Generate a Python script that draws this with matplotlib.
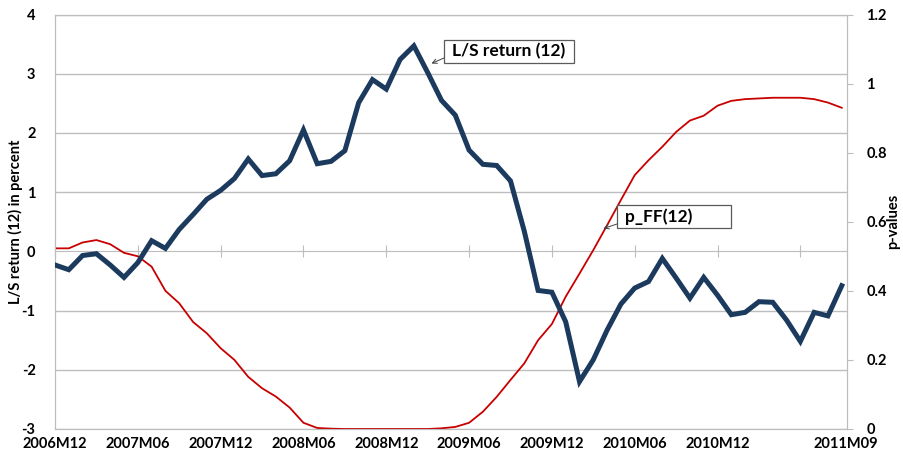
import matplotlib
matplotlib.use("Agg")
import matplotlib.pyplot as plt
from matplotlib.patches import Rectangle
import numpy as np

plt.rcParams['font.family'] = ['Lato', 'DejaVu Sans']
plt.rcParams['font.weight'] = 'bold'

# Monthly observations 2006M12 .. 2011M09
months = [f"{y}M{m:02d}" for y in range(2006, 2012) for m in range(1, 13)]
months = months[months.index("2006M12"):months.index("2011M09") + 1]

ls_return = [-0.23, -0.31, -0.07, -0.04, -0.23, -0.44, -0.19, 0.18, 0.05, 0.37,
             0.62, 0.88, 1.03, 1.23, 1.56, 1.28, 1.31, 1.53, 2.05, 1.48,
             1.52, 1.70, 2.51, 2.90, 2.74, 3.24, 3.47, 3.02, 2.55, 2.30,
             1.71, 1.47, 1.45, 1.19, 0.34, -0.66, -0.69, -1.19, -2.20, -1.83,
             -1.33, -0.89, -0.62, -0.51, -0.12, -0.45, -0.79, -0.44, -0.74, -1.07,
             -1.03, -0.85, -0.86, -1.16, -1.52, -1.03, -1.09, -0.58]

p_ff = [0.523, 0.523, 0.540, 0.547, 0.535, 0.510, 0.500, 0.470, 0.400, 0.364,
        0.310, 0.277, 0.234, 0.200, 0.151, 0.118, 0.094, 0.062, 0.018, 0.003,
        0.001, 0.000, 0.000, 0.000, 0.000, 0.000, 0.000, 0.000, 0.002, 0.006,
        0.018, 0.050, 0.093, 0.142, 0.190, 0.257, 0.304, 0.383, 0.450, 0.518,
        0.590, 0.663, 0.735, 0.778, 0.817, 0.860, 0.893, 0.907, 0.936, 0.950,
        0.955, 0.957, 0.959, 0.959, 0.959, 0.955, 0.945, 0.930]

left_ticks = [4, 3, 2, 1, 0, -1, -2, -3]
right_ticks = [0, 0.2, 0.4, 0.6, 0.8, 1.0, 1.2]
label_months = ["2006M12", "2007M06", "2007M12", "2008M06", "2008M12",
                "2009M06", "2009M12", "2010M06", "2010M12"]
tick_months = label_months + ["2011M06"]
last_label = "2011M09"

navy = "#1B3A5E"
red = "#C80000"
grid = "#BDBDBD"

W, H = 904, 455
fig = plt.figure(figsize=(W / 100, H / 100), dpi=100)
ax = fig.add_axes([55 / W, 1 - 429 / H, (847 - 55) / W, (429 - 14.5) / H])
x = np.arange(len(months))

ax.set_xlim(0, len(months) - 1 + 0.38)
ax.set_ylim(-3, 4)
ax.set_yticks(left_ticks)
ax.set_yticklabels([f"{t:g}" for t in left_ticks])
for t in left_ticks:
    if t != 0:
        ax.axhline(t, color=grid, lw=1.0, zorder=0)
for s in ['left', 'right', 'top', 'bottom']:
    ax.spines[s].set_color(grid)
ax.tick_params(axis='y', length=0, pad=14, labelsize=10.5)

# x labels at the bottom
lab_idx = [months.index(m) for m in label_months] + [len(months) - 1 + 0.3]
ax.set_xticks(lab_idx)
ax.set_xticklabels(label_months + [last_label], fontsize=10.5)
ax.tick_params(axis='x', length=0, pad=6)

# category axis through zero with tick marks
sec = ax.secondary_xaxis(3 / 7)
sec.set_xticks([months.index(m) for m in tick_months])
sec.tick_params(axis='x', direction='inout', length=8, color=grid,
                labelbottom=False, labeltop=False)
sec.spines['bottom'].set_color(grid)
sec.spines['top'].set_color(grid)

ax.set_ylabel("L/S return (12) in percent", fontsize=10.5, fontweight='bold')
ax.yaxis.set_label_coords((23 - 55) / 792, 0.5)

ax2 = ax.twinx()
ax2.set_ylim(0, 1.2)
ax2.set_yticks(right_ticks)
ax2.set_yticklabels([f"{t:g}" for t in right_ticks])
ax2.tick_params(axis='y', direction='out', length=4, color=grid, pad=10, labelsize=10.5)
for s in ['left', 'right', 'top', 'bottom']:
    ax2.spines[s].set_color(grid)
ax2.set_ylabel("p-values", fontsize=10.5, fontweight='bold')
ax2.yaxis.set_label_coords((886 - 55) / 792, 0.5)

ax2.plot(x, p_ff, color=red, lw=1.3, zorder=2)
ax3 = ax.twinx()
ax3.set_ylim(-3, 4)
ax3.axis('off')
ax3.plot(x, ls_return, color=navy, lw=3.6, solid_joinstyle='miter', zorder=3)


def callout(text, box, tail, tip):
    x0, y0, x1, y1 = box
    fig.patches.append(Rectangle((x0 / W, 1 - y1 / H), (x1 - x0) / W, (y1 - y0) / H,
                                 transform=fig.transFigure, fc='white',
                                 ec='#5A5A5A', lw=0.9, zorder=5))
    fig.text((x0 + 8) / W, 1 - ((y0 + y1) / 2) / H, text, fontsize=12.5,
             fontweight='bold', va='center', ha='left', zorder=6)
    ax3.annotate("", xy=(tip[0], H - tip[1]), xytext=(tail[0], H - tail[1]),
                 xycoords='figure pixels', textcoords='figure pixels',
                 arrowprops=dict(arrowstyle='->', color='#404040', lw=0.7,
                                 shrinkA=0, shrinkB=0, mutation_scale=8))


callout("L/S return (12)", (444, 40, 574, 63), (444, 58), (431.5, 63.5))
callout("p_FF(12)", (617, 205, 731, 228), (617, 224), (603.5, 228.5))

fig.savefig("out.png", dpi=100)
